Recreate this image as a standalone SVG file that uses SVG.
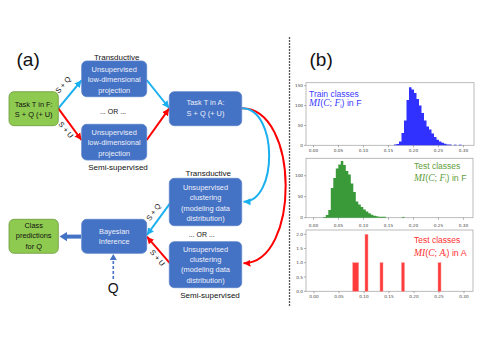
<svg xmlns="http://www.w3.org/2000/svg" width="485" height="343" viewBox="0 0 485 343">
<style>
text{font-family:"Liberation Sans",Arial,sans-serif}
.bx{fill:#4472c4;stroke:#5b82cc;stroke-width:0.8}
.gb{fill:#8fca50;stroke:#6a9a3a;stroke-width:0.8}
.bt{font-size:7.4px;fill:#eef0fa;text-anchor:middle}
.gt{font-size:7.4px;fill:#111;text-anchor:middle}
.lb{font-size:8px;fill:#111;text-anchor:middle}
.or{font-size:7px;fill:#111;text-anchor:middle}
.al{font-size:7.4px;fill:#111;text-anchor:middle}
.cy{stroke:#1ab0f0;stroke-width:2;fill:none}
.rd{stroke:#ff0000;stroke-width:2;fill:none}
.ax{fill:#fff;stroke:#aaa;stroke-width:0.8}
.tk{stroke:#666;stroke-width:0.5}
.tl{font-size:4.2px;fill:#444;font-family:"DejaVu Sans",sans-serif}
.tr{text-anchor:end}
.tc{text-anchor:middle}
.mi{font-family:"Liberation Serif","DejaVu Serif",serif;font-style:italic;font-size:9.6px}
</style>
<defs>
<marker id="mc" markerUnits="userSpaceOnUse" markerWidth="8" markerHeight="8" refX="7" refY="4" orient="auto"><path d="M0,0.5 L7,4 L0,7.5 Z" fill="#1ab0f0"/></marker>
<marker id="mr" markerUnits="userSpaceOnUse" markerWidth="8" markerHeight="8" refX="7" refY="4" orient="auto"><path d="M0,0.5 L7,4 L0,7.5 Z" fill="#ff0000"/></marker>
<marker id="mb" markerUnits="userSpaceOnUse" markerWidth="8" markerHeight="8" refX="6" refY="4" orient="auto"><path d="M0,0.5 L6,4 L0,7.5 Z" fill="#4472c4"/></marker>
</defs>

<text x="16.5" y="65.5" style="font-size:19px;fill:#111">(a)</text>
<text x="309.5" y="65.5" style="font-size:19px;fill:#111">(b)</text>

<g id="connectors">
<line class="cy" x1="58.3" y1="108.3" x2="81.5" y2="80.3" marker-end="url(#mc)"/>
<line class="rd" x1="58.3" y1="108.3" x2="81.5" y2="140" marker-end="url(#mr)"/>
<line class="cy" x1="146.7" y1="80" x2="169.1" y2="108" marker-end="url(#mc)"/>
<line class="rd" x1="146.7" y1="140" x2="169.1" y2="108.6" marker-end="url(#mr)"/>
<path class="rd" d="M241.7,108.3 C300,108 300,263 243.5,263.3" marker-end="url(#mr)"/>
<path class="cy" d="M241.7,108.3 C278,108 278,201.7 243.5,201.7" marker-end="url(#mc)"/>
<line class="cy" x1="170" y1="203.3" x2="146.9" y2="235" marker-end="url(#mc)"/>
<line class="rd" x1="170" y1="263.3" x2="146.9" y2="236.7" marker-end="url(#mr)"/>
<line x1="81" y1="236.6" x2="66" y2="236.6" stroke="#4472c4" stroke-width="4"/>
<path d="M59.5,236.6 L67,232 L67,241.2 Z" fill="#4472c4"/>
<line x1="113.3" y1="279" x2="113.3" y2="254" stroke="#4472c4" stroke-width="1.6" stroke-dasharray="3,2" marker-end="url(#mb)"/>
<text class="al" transform="translate(65,86.5) rotate(-50)">S + Q</text>
<text class="al" transform="translate(64,131.5) rotate(50)">S + U</text>
<text class="al" transform="translate(155.5,213.5) rotate(-54)">S + Q</text>
<text class="al" transform="translate(155.5,259.5) rotate(50)">S + U</text>
</g>

<g id="taskF">
<rect class="gb" x="9" y="91.7" width="49.3" height="34" rx="5"/>
<text class="gt" x="33.7" y="106.6">Task T in F:</text>
<text class="gt" x="33.7" y="117">S + Q (+ U)</text>
</g>
<g id="projTrans">
<text class="lb" x="116.7" y="59.5">Transductive</text>
<rect class="bx" x="81.7" y="61" width="65" height="35.7" rx="5"/>
<text class="bt" x="114.2" y="71.6">Unsupervised</text>
<text class="bt" x="114.2" y="82.3">low-dimensional</text>
<text class="bt" x="114.2" y="92.9">projection</text>
</g>
<text class="or" x="113" y="114.2">... OR ...</text>
<g id="projSemi">
<rect class="bx" x="81.7" y="124.3" width="65" height="35.7" rx="5"/>
<text class="bt" x="114.2" y="134.6">Unsupervised</text>
<text class="bt" x="114.2" y="145.3">low-dimensional</text>
<text class="bt" x="114.2" y="155.9">projection</text>
<text class="lb" x="118" y="170.1">Semi-supervised</text>
</g>
<g id="taskA">
<rect class="bx" x="169.3" y="91.7" width="72.4" height="34" rx="5"/>
<text class="bt" x="205.5" y="105.3">Task T in A:</text>
<text class="bt" x="205.5" y="116">S + Q (+ U)</text>
</g>
<g id="clusTrans">
<text class="lb" x="208.3" y="176">Transductive</text>
<rect class="bx" x="169.3" y="178.3" width="72.4" height="47.4" rx="5"/>
<text class="bt" x="205.5" y="189.9">Unsupervised</text>
<text class="bt" x="205.5" y="200.3">clustering</text>
<text class="bt" x="205.5" y="210.6">(modeling data</text>
<text class="bt" x="205.5" y="220.9">distribution)</text>
</g>
<text class="or" x="201.7" y="236.5">... OR ...</text>
<g id="clusSemi">
<rect class="bx" x="169.3" y="241.7" width="72.4" height="46" rx="5"/>
<text class="bt" x="205.5" y="251.6">Unsupervised</text>
<text class="bt" x="205.5" y="261.9">clustering</text>
<text class="bt" x="205.5" y="272.3">(modeling data</text>
<text class="bt" x="205.5" y="282.6">distribution)</text>
<text class="lb" x="210" y="297.8">Semi-supervised</text>
</g>
<g id="bayes">
<rect class="bx" x="81.7" y="219.3" width="65" height="34" rx="5"/>
<text class="bt" x="114.2" y="233.6">Bayesian</text>
<text class="bt" x="114.2" y="243.6">Inference</text>
</g>
<g id="classPred">
<rect class="gb" x="9" y="219.3" width="49.3" height="34" rx="5"/>
<text class="gt" x="33.7" y="227.6">Class</text>
<text class="gt" x="33.7" y="238.3">predictions</text>
<text class="gt" x="33.7" y="249.3">for Q</text>
</g>
<g id="q">
<text x="113.3" y="293.3" style="font-size:14px;fill:#111;text-anchor:middle">Q</text>
</g>

<line x1="289.5" y1="37" x2="289.5" y2="306" stroke="#555" stroke-width="1.3" stroke-dasharray="2,1"/>

<g id="plotTrain">
<rect class="ax" x="306" y="82.7" width="168" height="62.6"/>
<path d="M394,145.3V144.6H396.5V144H399V141.5H401.5V133H404V120.5H406.5V100H409V87.3H411.5V89.5H414V93H416.5V99H419V105.5H421.5V113H424V120.5H426.5V126.5H429V129.5H431.5V133.5H434V137H436.5V139.8H439V141.5H441.5V142.8H444V143.8H446.5V144.4H451.5V145.3Z" fill="#3030ff"/>
<rect x="454" y="144.7" width="2.5" height="0.6" fill="#3030ff"/>
<rect x="459" y="144.7" width="2.5" height="0.6" fill="#3030ff"/>
<path class="tk" d="M304,145.3H306M304,125.5H306M304,105.6H306M304,85.7H306M313.5,145.3V147.3M338.5,145.3V147.3M363.5,145.3V147.3M388.5,145.3V147.3M413.5,145.3V147.3M438.5,145.3V147.3M463.5,145.3V147.3"/>
<text class="tl tr" x="303" y="146.8">0</text>
<text class="tl tr" x="303" y="127">50</text>
<text class="tl tr" x="303" y="107.1">100</text>
<text class="tl tr" x="303" y="87.2">150</text>
<text class="tl tc" x="313.5" y="152.3">0.00</text>
<text class="tl tc" x="338.5" y="152.3">0.05</text>
<text class="tl tc" x="363.5" y="152.3">0.10</text>
<text class="tl tc" x="388.5" y="152.3">0.15</text>
<text class="tl tc" x="413.5" y="152.3">0.20</text>
<text class="tl tc" x="438.5" y="152.3">0.25</text>
<text class="tl tc" x="463.5" y="152.3">0.30</text>
<text x="309" y="96.5" style="font-size:8.5px;fill:#3a3aff">Train classes</text>
<text x="309" y="106" style="font-size:8.8px;fill:#3a3aff"><tspan class="mi">MI</tspan>(<tspan class="mi">C</tspan>; <tspan class="mi">F</tspan><tspan style="font-size:5.5px" dy="1.5">i</tspan><tspan dy="-1.5">) in F</tspan></text>
</g>

<g id="plotTestF">
<rect class="ax" x="306" y="158.3" width="167" height="59.4"/>
<path d="M323.3,217.7V217H325.8V215H328.3V210H330.8V188H333.3V178H335.8V168.5H338.3V164.5H340.8V161H343.3V165H345.8V171H348.3V174.5H350.8V183.5H353.3V192H355.8V201.5H358.3V204.5H360.8V207H363.3V209.5H365.8V211.5H368.3V213.3H370.8V214.8H373.3V215.7H375.8V216.3H378.3V216.8H385.8V217.7Z" fill="#3a9a3a"/>
<rect x="402" y="216.9" width="2.5" height="0.8" fill="#3a9a3a"/>
<path class="tk" d="M304,217.7H306M304,196.7H306M304,175.7H306M313.5,217.7V219.7M338.5,217.7V219.7M363.5,217.7V219.7M388.5,217.7V219.7M413.5,217.7V219.7M438.5,217.7V219.7M463.5,217.7V219.7"/>
<text class="tl tr" x="303" y="219.2">0</text>
<text class="tl tr" x="303" y="198.2">50</text>
<text class="tl tr" x="303" y="177.2">100</text>
<text class="tl tc" x="313.5" y="226.5">0.00</text>
<text class="tl tc" x="338.5" y="226.5">0.05</text>
<text class="tl tc" x="363.5" y="226.5">0.10</text>
<text class="tl tc" x="388.5" y="226.5">0.15</text>
<text class="tl tc" x="413.5" y="226.5">0.20</text>
<text class="tl tc" x="438.5" y="226.5">0.25</text>
<text class="tl tc" x="463.5" y="226.5">0.30</text>
<text x="414" y="169" style="font-size:8.5px;fill:#5e9e3a">Test classes</text>
<text x="414" y="180.5" style="font-size:8.8px;fill:#5e9e3a"><tspan class="mi">MI</tspan>(<tspan class="mi">C</tspan>; <tspan class="mi">F</tspan><tspan style="font-size:5.5px" dy="1.5">i</tspan><tspan dy="-1.5">) in F</tspan></text>
</g>

<g id="plotTestA">
<rect class="ax" x="306" y="230" width="167" height="61.3"/>
<g fill="#ff3b3b" stroke="#ff9a9a" stroke-width="0.5">
<rect x="352.7" y="262.7" width="6" height="28.6"/>
<rect x="365" y="234.3" width="3" height="57"/>
<rect x="380" y="262.7" width="3" height="28.6"/>
<rect x="401.5" y="262.7" width="3" height="28.6"/>
<rect x="438" y="262.7" width="3" height="28.6"/>
</g>
<path class="tk" d="M304,291.3H306M304,277H306M304,262.7H306M304,248.5H306M304,234.3H306M314,291.3V293.3M339,291.3V293.3M364,291.3V293.3M389,291.3V293.3M414,291.3V293.3M439,291.3V293.3M464,291.3V293.3"/>
<text class="tl tr" x="303" y="292.8">0.0</text>
<text class="tl tr" x="303" y="278.5">0.5</text>
<text class="tl tr" x="303" y="264.2">1.0</text>
<text class="tl tr" x="303" y="250">1.5</text>
<text class="tl tr" x="303" y="235.8">2.0</text>
<text class="tl tc" x="314" y="298.3">0.00</text>
<text class="tl tc" x="339" y="298.3">0.05</text>
<text class="tl tc" x="364" y="298.3">0.10</text>
<text class="tl tc" x="389" y="298.3">0.15</text>
<text class="tl tc" x="414" y="298.3">0.20</text>
<text class="tl tc" x="439" y="298.3">0.25</text>
<text class="tl tc" x="464" y="298.3">0.30</text>
<text x="414" y="243" style="font-size:8.5px;fill:#ff3030">Test classes</text>
<text x="414" y="255.5" style="font-size:8.8px;fill:#ff3030"><tspan class="mi">MI</tspan>(<tspan class="mi">C</tspan>; <tspan class="mi">A</tspan><tspan style="font-size:5.5px" dy="1.5">i</tspan><tspan dy="-1.5">) in A</tspan></text>
</g>
</svg>
